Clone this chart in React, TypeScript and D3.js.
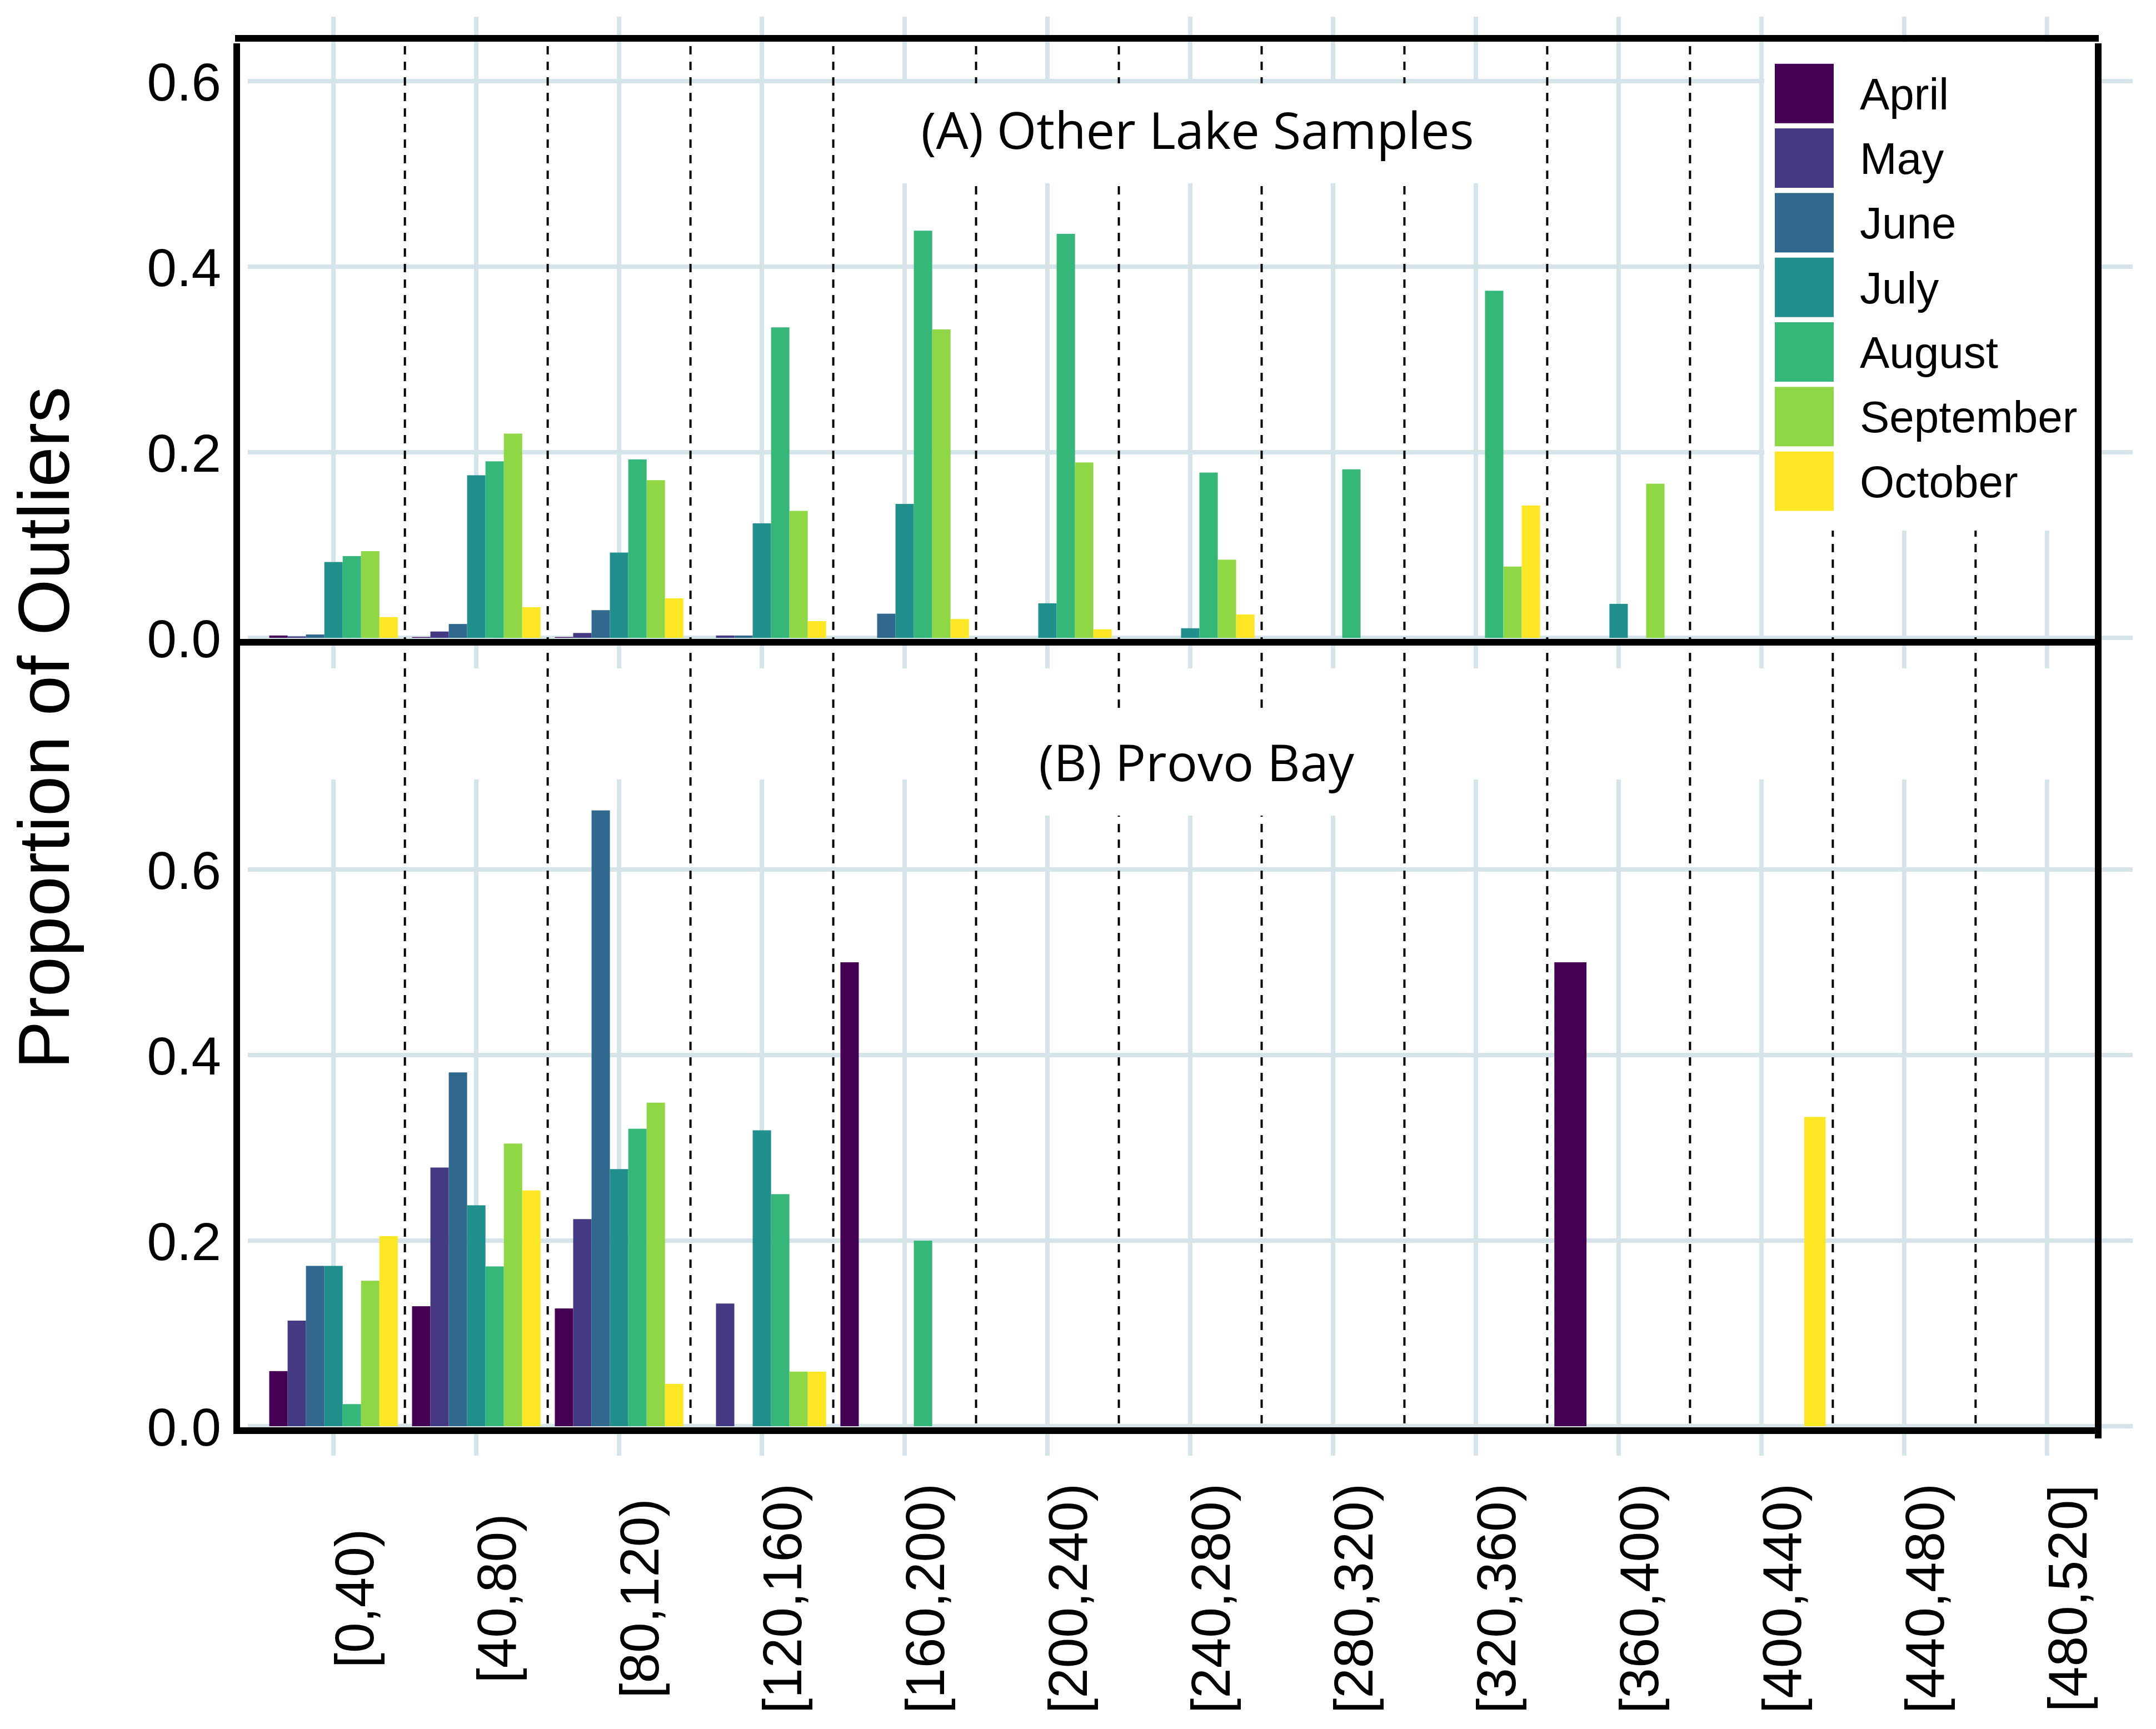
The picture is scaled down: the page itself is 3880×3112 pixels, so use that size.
import React from "react";
import * as d3 from "d3";

// ---------- data ----------
const categories = [
  "[0,40)", "[40,80)", "[80,120)", "[120,160)", "[160,200)", "[200,240)", "[240,280)",
  "[280,320)", "[320,360)", "[360,400)", "[400,440)", "[440,480)", "[480,520]",
];
const months = ["April", "May", "June", "July", "August", "September", "October"];
const monthColors = ["#440154", "#443A83", "#31688E", "#21908C", "#35B779", "#8FD744", "#FDE725"];
const yTicks = [0, 0.2, 0.4, 0.6];

const N = null;
// (A) Other Lake Samples
const topApril = [0.0025, 0.0008, 0.0008, 0, 0, 0, 0, 0, 0, 0, N, N, N];
const topMay = [0.0015, 0.0068, 0.0052, 0.0025, 0, 0, 0, 0, 0, 0, N, N, N];
const topJune = [0.0036, 0.0149, 0.0298, 0.0025, 0.026, 0, 0, 0, 0, 0, N, N, N];
const topJuly = [0.0817, 0.1752, 0.0919, 0.1234, 0.1443, 0.0372, 0.0103, 0, 0, 0.0366, N, N, N];
const topAugust = [0.0881, 0.1902, 0.1923, 0.3346, 0.4388, 0.4354, 0.1781, 0.1816, 0.3741, 0, N, N, N];
const topSeptember = [0.0934, 0.2201, 0.1699, 0.1368, 0.3324, 0.189, 0.0842, 0, 0.0768, 0.1661, N, N, N];
const topOctober = [0.0223, 0.033, 0.0426, 0.018, 0.0202, 0.0092, 0.0252, 0, 0.1426, 0, N, N, N];

// (B) Provo Bay
const botApril = [0.0594, 0.1293, 0.1269, 0, 0.5, 0, 0, 0, 0, 0.5, N, N, N];
const botMay = [0.1138, 0.2788, 0.2232, 0.1322, 0, 0, 0, 0, 0, 0, 0, N, N];
const botJune = [0.1728, 0.3813, 0.6637, 0, 0, 0, 0, 0, 0, 0, 0, N, N];
const botJuly = [0.1728, 0.2381, 0.2771, 0.3189, 0, 0, 0, 0, 0, 0, 0, N, N];
const botAugust = [0.0238, 0.1722, 0.3206, 0.2501, 0.2, 0, 0, 0, 0, N, 0, N, N];
const botSeptember = [0.1568, 0.3046, 0.3487, 0.0588, 0, 0, 0, 0, 0, N, 0, N, N];
const botOctober = [0.2049, 0.2541, 0.0456, 0.0588, 0, 0, 0, 0, 0, N, 0.3333, N, N];

const topSeries = [topApril, topMay, topJune, topJuly, topAugust, topSeptember, topOctober];
const botSeries = [botApril, botMay, botJune, botJuly, botAugust, botSeptember, botOctober];

// ---------- layout ----------
const W = 3880;
const H = 3112;
const PL = 446;
const PR = 3838;
const GRID = "#d4e4e8";
const SANS = "'Liberation Sans', Arial, sans-serif";
const TITLE_FONT = "'Open Sans', 'Noto Sans', sans-serif";

const x = d3.scalePoint<string>().domain(categories).range([PL, PR]).padding(0.6);
const step = x.step();
const yTop = d3.scaleLinear().domain([0, 0.6]).range([1148, 1148 - 0.6 * 1670]);
const yBot = d3.scaleLinear().domain([0, 0.6]).range([2567, 2567 - 0.6 * 1670]);
const fmt = d3.format(".1f");

function bars(series: (number | null)[][], y: d3.ScaleLinear<number, number>, key: string) {
  const out: JSX.Element[] = [];
  categories.forEach((c, ci) => {
    const present = months.map((_, m) => m).filter((m) => series[m][ci] !== null);
    const n = present.length;
    if (!n) return;
    const total = 0.9 * step;
    const w = total / n;
    const cx = x(c) as number;
    present.forEach((m, j) => {
      const v = series[m][ci] as number;
      if (v <= 0) return;
      out.push(
        <rect
          key={`${key}-${ci}-${m}`}
          x={cx - total / 2 + j * w}
          y={y(v)}
          width={w}
          height={y(0) - y(v)}
          fill={monthColors[m]}
        />
      );
    });
  });
  return out;
}

export default function App() {
  const dashXs = categories.slice(0, -1).map((c) => (x(c) as number) + step / 2);
  return (
    <svg
      width={W}
      height={H}
      viewBox={`0 0 ${W} ${H}`}
      style={{ position: "absolute", left: 0, top: 0, display: "block", background: "#fff" }}
    >
      <rect x={0} y={0} width={W} height={H} fill="#fff" />
      {/* horizontal gridlines */}
      {yTicks.map((t) => (
        <line key={`ht${t}`} x1={PL} x2={PR} y1={yTop(t)} y2={yTop(t)} stroke={GRID} strokeWidth={8} />
      ))}
      {yTicks.map((t) => (
        <line key={`hb${t}`} x1={PL} x2={PR} y1={yBot(t)} y2={yBot(t)} stroke={GRID} strokeWidth={8} />
      ))}
      {/* vertical gridlines / ticks */}
      {categories.map((c) => (
        <g key={`v${c}`}>
          <line x1={x(c)} x2={x(c)} y1={30} y2={1203} stroke={GRID} strokeWidth={8} />
          <line x1={x(c)} x2={x(c)} y1={1403} y2={2620} stroke={GRID} strokeWidth={8} />
        </g>
      ))}
      {/* dashed separators */}
      {dashXs.map((dx, i) => (
        <line key={`d${i}`} x1={dx} x2={dx} y1={83} y2={2575} stroke="#000" strokeWidth={4} strokeDasharray="15 13" />
      ))}
      {/* bars */}
      {bars(topSeries, yTop, "t")}
      {bars(botSeries, yBot, "b")}
      {/* white label boxes */}
      <rect x={1591} y={150} width={1141} height={180} fill="#fff" />
      <rect x={1790} y={1282} width={710} height={186} fill="#fff" />
      <rect x={3175} y={76} width={595} height={879} fill="#fff" />
      {/* panel titles */}
      <text x={2155} y={268} fontFamily={TITLE_FONT} fontSize={92} textAnchor="middle" fill="#000">
        (A) Other Lake Samples
      </text>
      <text x={2153} y={1406} fontFamily={TITLE_FONT} fontSize={92} textAnchor="middle" fill="#000">
        (B) Provo Bay
      </text>
      {/* legend */}
      {months.map((m, i) => {
        const top = 114.8 + 116.3 * i;
        return (
          <g key={`lg${m}`}>
            <rect x={3194} y={top} width={106} height={107} fill={monthColors[i]} />
            <text x={3347} y={top + 53.5 + 28.5} fontFamily={SANS} fontSize={80} fill="#000">
              {m}
            </text>
          </g>
        );
      })}
      {/* frame lines */}
      <line x1={423} x2={3777} y1={69} y2={69} stroke="#000" strokeWidth={12} />
      <line x1={426} x2={426} y1={78} y2={2581} stroke="#000" strokeWidth={12} />
      <line x1={3776} x2={3776} y1={78} y2={2589} stroke="#000" strokeWidth={12} />
      <line x1={426} x2={3776} y1={1156} y2={1156} stroke="#000" strokeWidth={12} />
      <line x1={420} x2={3782} y1={2575} y2={2575} stroke="#000" strokeWidth={12} />
      {/* y tick labels */}
      {yTicks.map((t) => (
        <text key={`yt${t}`} x={398} y={yTop(t)} dy="0.36em" textAnchor="end" fontFamily={SANS} fontSize={96} fill="#000">
          {fmt(t)}
        </text>
      ))}
      {yTicks.map((t) => (
        <text key={`yb${t}`} x={398} y={yBot(t)} dy="0.36em" textAnchor="end" fontFamily={SANS} fontSize={96} fill="#000">
          {fmt(t)}
        </text>
      ))}
      {/* x tick labels */}
      {categories.map((c) => (
        <text
          key={`xl${c}`}
          transform={`translate(${(x(c) as number) + 0.728 * 98},2877) rotate(-90)`}
          textAnchor="middle"
          fontFamily={SANS}
          fontSize={98}
          fill="#000"
        >
          {c}
        </text>
      ))}
      {/* axis title */}
      <text transform="translate(124,1310) rotate(-90)" textAnchor="middle" fontFamily={SANS} fontSize={130} fill="#000">
        Proportion of Outliers
      </text>
    </svg>
  );
}
